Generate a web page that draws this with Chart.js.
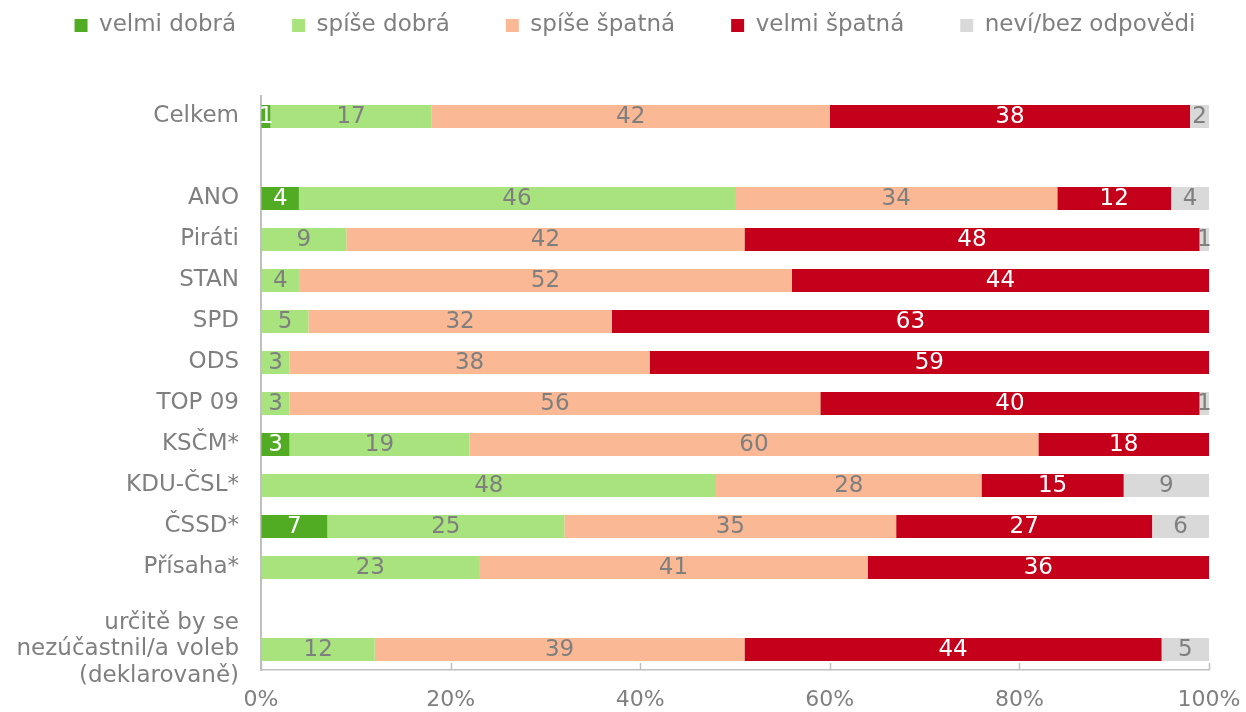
<!DOCTYPE html>
<html>
<head>
<meta charset="utf-8">
<script src="https://cdn.jsdelivr.net/npm/chart.js@4"></script>
<style>
  html, body { margin: 0; padding: 0; background: #fff; }
  #wrap { width: 1246px; height: 712px; }
</style>
</head>
<body>
<div id="wrap"><canvas id="myChart"></canvas></div>
<script>
// categories (empty strings are spacer rows)
var categories = ['Celkem', '', 'ANO', 'Piráti', 'STAN', 'SPD', 'ODS', 'TOP 09', 'KSČM*', 'KDU-ČSL*', 'ČSSD*', 'Přísaha*', '',
  ['určitě by se', 'nezúčastnil/a voleb', '(deklarovaně)']];

var seriesNames = ['velmi dobrá', 'spíše dobrá', 'spíše špatná', 'velmi špatná', 'neví/bez odpovědi'];

var velmiDobra   = [1,  null, 4,  0,  0,  0,  0,  0,  3,  0,  7,  0,  null, 0];
var spiseDobra   = [17, null, 46, 9,  4,  5,  3,  3,  19, 48, 25, 23, null, 12];
var spiseSpatna  = [42, null, 34, 42, 52, 32, 38, 56, 60, 28, 35, 41, null, 39];
var velmiSpatna  = [38, null, 12, 48, 44, 63, 59, 40, 18, 15, 27, 36, null, 44];
var nevi         = [2,  null, 4,  1,  0,  0,  0,  1,  0,  9,  6,  0,  null, 5];

var xTicks = [0, 20, 40, 60, 80, 100];

var colors = ['#51AC24', '#A8E37E', '#FBB894', '#C5001A', '#D9D9D9'];
var labelColors = ['#ffffff', '#7F7F7F', '#7F7F7F', '#ffffff', '#7F7F7F'];
var grey = '#7F7F7F';
var FONT = 'DejaVu Sans';

var values = [velmiDobra, spiseDobra, spiseSpatna, velmiSpatna, nevi];
var datasets = [];
for (var i = 0; i < values.length; i++) {
  datasets.push({
    label: seriesNames[i],
    data: values[i],
    backgroundColor: colors[i],
    borderWidth: 0,
    barPercentage: 0.56,
    categoryPercentage: 1.0
  });
}

// values written in the middle of each segment
var barLabels = {
  id: 'barLabels',
  afterDatasetsDraw: function(chart) {
    var ctx = chart.ctx;
    ctx.save();
    ctx.font = '23px "' + FONT + '"';
    ctx.textAlign = 'center';
    ctx.textBaseline = 'middle';
    chart.data.datasets.forEach(function(ds, di) {
      var meta = chart.getDatasetMeta(di);
      meta.data.forEach(function(bar, idx) {
        var v = ds.data[idx];
        if (!v) return;
        var x = (bar.x + bar.base) / 2;
        ctx.fillStyle = labelColors[di];
        ctx.fillText(String(v), x, bar.y + 1);
      });
    });
    ctx.restore();
  }
};

// small tick marks pointing up from the bottom axis
var innerTicks = {
  id: 'innerTicks',
  afterDraw: function(chart) {
    var ctx = chart.ctx;
    var xs = chart.scales.x;
    var bottom = chart.chartArea.bottom;
    ctx.save();
    ctx.strokeStyle = '#BFBFBF';
    ctx.lineWidth = 1.5;
    xTicks.forEach(function(t) {
      var px = Math.round(xs.getPixelForValue(t)) + 0.5;
      ctx.beginPath();
      ctx.moveTo(px, bottom - 7);
      ctx.lineTo(px, bottom);
      ctx.stroke();
    });
    ctx.restore();
  }
};

// extra room under the legend, and nudge it a bit to the right
var legendMargin = {
  id: 'legendMargin',
  beforeInit: function(chart) {
    var fit = chart.legend.fit;
    chart.legend.fit = function() {
      fit.bind(chart.legend)();
      this.height += 49;
    };
  },
  afterLayout: function(chart) {
    chart.legend.left += 12;
    chart.legend.right += 12;
  }
};

var ctx = document.getElementById('myChart');
var myChart = new Chart(ctx, {
  type: 'bar',
  data: {
    labels: categories,
    datasets: datasets
  },
  options: {
    indexAxis: 'y',
    responsive: true,
    maintainAspectRatio: false,
    animation: false,
    layout: { padding: { top: -42, right: 0, left: 0, bottom: 0 } },
    plugins: {
      tooltip: { enabled: false },
      legend: {
        position: 'top',
        align: 'center',
        labels: {
          boxWidth: 13,
          boxHeight: 13,
          padding: 56,
          color: grey,
          font: { family: FONT, size: 23 }
        }
      }
    },
    scales: {
      x: {
        stacked: true,
        min: 0,
        max: 100,
        afterBuildTicks: function(scale) {
          scale.ticks = xTicks.map(function(v) { return { value: v }; });
        },
        afterFit: function(scale) {
          scale.height = 42;
          scale.paddingLeft = 0;
          scale.paddingRight = 37;
        },
        grid: { display: true, drawOnChartArea: false, drawTicks: false },
        border: { display: true, color: '#BFBFBF', width: 1.5 },
        ticks: {
          color: grey,
          padding: 17,
          maxRotation: 0,
          font: { family: FONT, size: 22 },
          callback: function(v) { return v + '%'; }
        }
      },
      y: {
        stacked: true,
        afterFit: function(scale) { scale.width = 261; },
        grid: { display: false, drawTicks: false },
        border: { display: true, color: '#BFBFBF', width: 2 },
        ticks: {
          color: grey,
          padding: 22,
          autoSkip: false,
          font: { family: FONT, size: 23, lineHeight: 1.17 }
        }
      }
    }
  },
  plugins: [barLabels, innerTicks, legendMargin]
});
</script>
</body>
</html>
